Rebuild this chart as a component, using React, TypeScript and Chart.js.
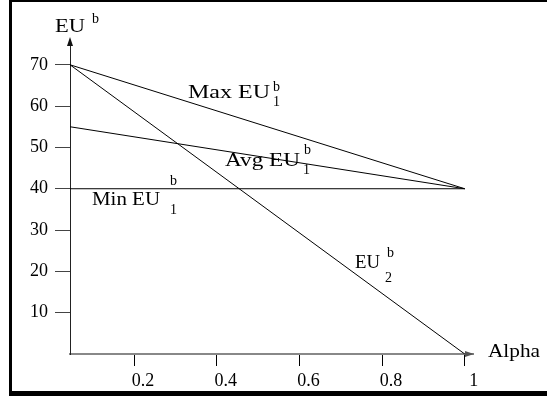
import React, { useEffect, useRef } from 'react';
import { Chart, registerables } from 'chart.js';

Chart.register(...registerables);

// ---- data ----
const alphaValues = [0.045, 1];
const maxEU1 = [70, 40];
const avgEU1 = [55, 40];
const minEU1 = [40, 40];
const eu2 = [70, 0];
const xTickValues = [0.2, 0.4, 0.6, 0.8, 1];
const xTickLabels = ['0.2', '0.4', '0.6', '0.8', '1'];
const yTickValues = [10, 20, 30, 40, 50, 60, 70];
const yTickLabels = ['10', '20', '30', '40', '50', '60', '70'];

const SERIF = '"Liberation Serif", "Times New Roman", serif';

function toPoints(ys: number[]) {
  return ys.map((y, i) => ({ x: alphaValues[i], y }));
}

function drawText(
  ctx: CanvasRenderingContext2D,
  text: string,
  x: number,
  baseline: number,
  size: number,
  width?: number
) {
  ctx.save();
  ctx.font = `${size}px ${SERIF}`;
  const w = ctx.measureText(text).width;
  const sx = width ? width / w : 1;
  ctx.translate(x, baseline);
  ctx.scale(sx, 1);
  ctx.textAlign = 'left';
  ctx.textBaseline = 'alphabetic';
  ctx.fillStyle = '#000';
  ctx.fillText(text, 0, 0);
  ctx.restore();
}

type Ann = {
  main: string;
  x: number;
  y: number;
  w: number;
  size: number;
  sup?: string;
  supX?: number;
  supY?: number;
  sub?: string;
  subX?: number;
  subY?: number;
};

const annotations: Ann[] = [
  { main: 'EU', x: 55, y: 32, w: 30, size: 18, sup: 'b', supX: 92, supY: 23 },
  { main: 'Max EU', x: 188, y: 98, w: 82, size: 19, sup: 'b', supX: 273, supY: 91, sub: '1', subX: 273, subY: 106 },
  { main: 'Avg EU', x: 225, y: 166, w: 75, size: 19, sup: 'b', supX: 304, supY: 154, sub: '1', subX: 303, subY: 174 },
  { main: 'Min EU', x: 92, y: 205, w: 68, size: 19, sup: 'b', supX: 170, supY: 185, sub: '1', subX: 170, subY: 214 },
  { main: 'EU', x: 355, y: 268, w: 25, size: 19, sup: 'b', supX: 387, supY: 257, sub: '2', subX: 385, subY: 282 },
  { main: 'Alpha', x: 488, y: 357, w: 52, size: 19 },
];

const decorPlugin = {
  id: 'decor',
  afterDraw(chart: any) {
    const ctx: CanvasRenderingContext2D = chart.ctx;
    const area = chart.chartArea;
    ctx.save();
    // frame
    ctx.fillStyle = '#000';
    ctx.fillRect(9, 0, 538, 2);
    ctx.fillRect(9, 0, 3, 396);
    ctx.fillRect(9, 391, 538, 5);
    // y arrow
    ctx.fillStyle = '#111';
    ctx.beginPath();
    ctx.moveTo(area.left, area.top - 3);
    ctx.lineTo(area.left - 3, area.top + 6);
    ctx.lineTo(area.left + 3, area.top + 6);
    ctx.closePath();
    ctx.fill();
    // x arrow
    ctx.fillStyle = '#555';
    ctx.beginPath();
    ctx.moveTo(area.right + 1, area.bottom);
    ctx.lineTo(area.right - 8, area.bottom - 3);
    ctx.lineTo(area.right - 8, area.bottom + 3);
    ctx.closePath();
    ctx.fill();
    ctx.restore();

    for (const a of annotations) {
      drawText(ctx, a.main, a.x, a.y, a.size, a.w);
      if (a.sup) drawText(ctx, a.sup, a.supX!, a.supY!, 14);
      if (a.sub) drawText(ctx, a.sub, a.subX!, a.subY!, 14);
    }
  },
};

export default function App() {
  const ref = useRef<HTMLCanvasElement>(null);

  useEffect(() => {
    if (!ref.current) return;
    const line = (data: number[]) => ({
      data: toPoints(data),
      borderColor: '#000',
      borderWidth: 1,
      pointRadius: 0,
      fill: false,
      tension: 0,
      clip: false as any,
    });
    const chart = new Chart(ref.current, {
      type: 'line',
      data: {
        datasets: [
          { label: 'Max EU1b', ...line(maxEU1) },
          { label: 'Avg EU1b', ...line(avgEU1) },
          { label: 'Min EU1b', ...line(minEU1) },
          { label: 'EU2b', ...line(eu2) },
        ],
      },
      options: {
        responsive: false,
        animation: false,
        devicePixelRatio: 1,
        layout: { padding: { top: 40, right: 74, left: 0, bottom: 0 } },
        plugins: { legend: { display: false }, tooltip: { enabled: false } },
        scales: {
          x: {
            type: 'linear',
            min: 0.045,
            max: 1.02,
            afterBuildTicks: (s: any) => {
              s.ticks = xTickValues.map((v) => ({ value: v }));
            },
            afterFit: (s: any) => {
              s.height = 46;
            },
            ticks: {
              callback: (_v: any, i: number) => xTickLabels[i],
              color: '#000',
              font: { family: SERIF, size: 18 },
              padding: 4,
              labelOffset: 9,
              maxRotation: 0,
              autoSkip: false,
            },
            grid: {
              drawOnChartArea: false,
              drawTicks: true,
              tickLength: 12,
              tickColor: '#000',
              tickWidth: 1,
            },
            border: { display: true, color: '#888', width: 2 },
          },
          y: {
            type: 'linear',
            min: 0,
            max: 76,
            afterBuildTicks: (s: any) => {
              s.ticks = yTickValues.map((v) => ({ value: v }));
            },
            afterFit: (s: any) => {
              s.width = 70;
            },
            ticks: {
              callback: (_v: any, i: number) => yTickLabels[i],
              color: '#000',
              font: { family: SERIF, size: 18 },
              padding: 7,
              autoSkip: false,
            },
            grid: {
              drawOnChartArea: false,
              drawTicks: true,
              tickLength: 15,
              tickColor: '#444',
              tickWidth: 1,
            },
            border: { display: true, color: '#222', width: 1 },
          },
        },
      },
      plugins: [decorPlugin],
    });
    return () => chart.destroy();
  }, []);

  return (
    <div style={{ position: 'absolute', left: 0, top: 0, width: 547, height: 400, background: '#fff' }}>
      <canvas ref={ref} width={547} height={400} style={{ display: 'block' }} />
    </div>
  );
}
